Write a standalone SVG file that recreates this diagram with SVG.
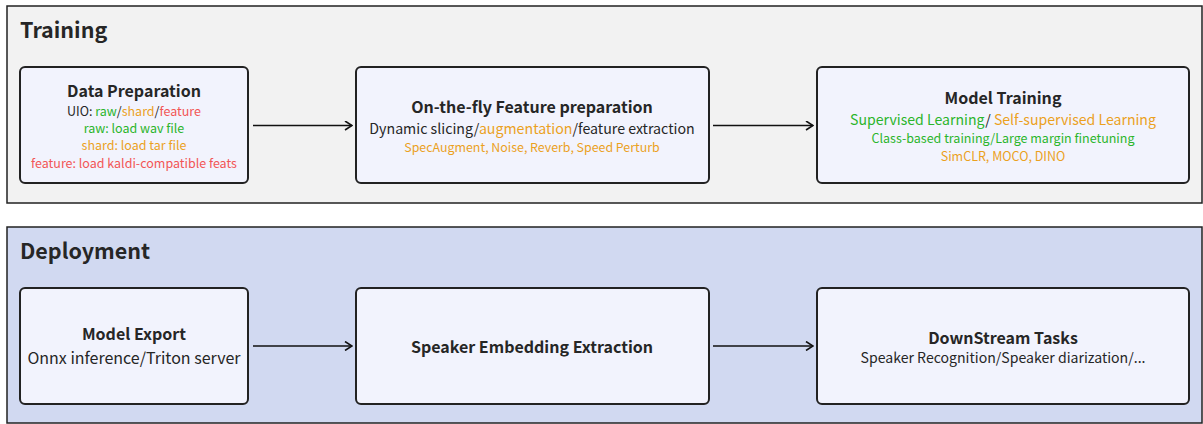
<svg xmlns="http://www.w3.org/2000/svg" width="1203" height="424" viewBox="0 0 1203 424">
<style>
text{font-family:"Noto Sans CJK SC","Noto Sans",sans-serif;fill:#262626;text-anchor:middle}
.sec{font-size:21.5px;font-weight:bold;text-anchor:start}
.t{font-size:16px;font-weight:bold}
.node{fill:#f2f3fd;stroke:#222;stroke-width:2}
.g{fill:#2bb52b}.o{fill:#eba11e}.r{fill:#f25656}
.c{stroke:#111;stroke-width:1.6;fill:none}
</style>
<defs><marker id="ah" viewBox="0 0 10 10" refX="9" refY="5" markerWidth="10" markerHeight="10" markerUnits="userSpaceOnUse" orient="auto"><path d="M2,0.5 L9,5 L2,9.5" fill="none" stroke="#111" stroke-width="1.6"/></marker></defs>
<g id="training">
<rect x="7" y="6" width="1195" height="197" fill="#f2f2f2" stroke="#222" stroke-width="1.5"/>
<text class="sec" x="20" y="38">Training</text>
</g>
<g id="deployment">
<rect x="7" y="227" width="1195" height="196" fill="#d1d9f1" stroke="#222" stroke-width="1.5"/>
<text class="sec" x="20" y="259">Deployment</text>
</g>
<g id="data-prep">
<rect class="node" x="20" y="67" width="228" height="116" rx="5"/>
<text class="t" x="134" y="97">Data Preparation</text>
<text x="134" y="116" font-size="12.5">UIO: <tspan class="g">raw</tspan>/<tspan class="o">shard</tspan>/<tspan class="r">feature</tspan></text>
<text class="g" x="134" y="133" font-size="12.5">raw: load wav file</text>
<text class="o" x="134" y="150" font-size="12.5">shard: load tar file</text>
<text class="r" x="134" y="168" font-size="12.5">feature: load kaldi-compatible feats</text>
</g>
<g id="feature-prep">
<rect class="node" x="356" y="67" width="353" height="116" rx="5"/>
<text class="t" x="532" y="113">On-the-fly Feature preparation</text>
<text x="532" y="134" font-size="14.2">Dynamic slicing/<tspan class="o">augmentation</tspan>/feature extraction</text>
<text class="o" x="532" y="152" font-size="12.4">SpecAugment, Noise, Reverb, Speed Perturb</text>
</g>
<g id="model-training">
<rect class="node" x="817" y="67" width="372" height="116" rx="5"/>
<text class="t" x="1003" y="104">Model Training</text>
<text x="1003" y="125" font-size="14.1"><tspan class="g">Supervised Learning</tspan>/ <tspan class="o">Self-supervised Learning</tspan></text>
<text class="g" x="1003" y="143" font-size="12.5">Class-based training/Large margin finetuning</text>
<text class="o" x="1003" y="161" font-size="12.5">SimCLR, MOCO, DINO</text>
</g>
<g id="model-export">
<rect class="node" x="20" y="288" width="228" height="116" rx="5"/>
<text class="t" x="134" y="340">Model Export</text>
<text x="134" y="364" font-size="16">Onnx inference/Triton server</text>
</g>
<g id="embedding">
<rect class="node" x="356" y="288" width="353" height="116" rx="5"/>
<text class="t" x="532" y="353">Speaker Embedding Extraction</text>
</g>
<g id="downstream">
<rect class="node" x="817" y="288" width="372" height="116" rx="5"/>
<text class="t" x="1003" y="344">DownStream Tasks</text>
<text x="1003" y="363" font-size="14.1">Speaker Recognition/Speaker diarization/...</text>
</g>
<g id="connectors">
<line class="c" x1="253" y1="125.5" x2="352" y2="125.5" marker-end="url(#ah)"/>
<line class="c" x1="713" y1="125.5" x2="813" y2="125.5" marker-end="url(#ah)"/>
<line class="c" x1="253" y1="346" x2="352" y2="346" marker-end="url(#ah)"/>
<line class="c" x1="713" y1="346" x2="813" y2="346" marker-end="url(#ah)"/>
</g>
</svg>
